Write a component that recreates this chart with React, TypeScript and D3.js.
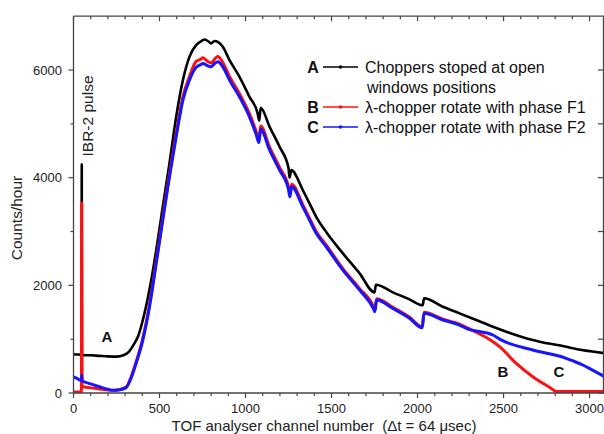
import React from "react";
import * as d3 from "d3";

// Series A: choppers stopped at open windows positions
const chA = [0, 30, 47, 48, 49, 100, 150, 200, 250, 290, 320, 350, 375, 413, 452, 481, 519, 558, 597, 636, 674, 713, 740, 762, 785, 800, 820, 839, 868, 907, 965, 1023, 1070, 1080, 1088, 1140, 1198, 1250, 1256, 1266, 1333, 1372, 1411, 1469, 1566, 1663, 1750, 1758, 1857, 1953, 2030, 2038, 2147, 2244, 2341, 2438, 2516, 2670, 2709, 2864, 2903, 3084];
const valA = [720, 715, 710, 4250, 700, 700, 690, 680, 675, 700, 760, 900, 1050, 1485, 2098, 2655, 3460, 4270, 5131, 5812, 6245, 6462, 6530, 6567, 6530, 6494, 6540, 6524, 6431, 6184, 5874, 5502, 5200, 5060, 5300, 4945, 4574, 4180, 4000, 4140, 3770, 3523, 3274, 2990, 2594, 2223, 1870, 2010, 1870, 1740, 1630, 1760, 1603, 1480, 1356, 1230, 1139, 984, 953, 860, 830, 740];

// Series B: lambda-chopper rotating with phase F1
const chB = [0, 46, 48, 50, 100, 150, 200, 229, 260, 306, 330, 364, 403, 442, 481, 519, 558, 597, 636, 674, 713, 740, 752, 780, 800, 820, 839, 868, 907, 965, 1023, 1062, 1078, 1088, 1140, 1198, 1250, 1258, 1268, 1333, 1372, 1411, 1469, 1566, 1663, 1745, 1752, 1762, 1857, 1953, 2027, 2038, 2147, 2244, 2283, 2400, 2477, 2574, 2670, 2767, 2806, 2900, 3084];
const valB = [20, 25, 3530, 120, 95, 75, 55, 50, 60, 110, 260, 580, 1020, 1650, 2450, 3260, 4070, 4820, 5500, 5880, 6160, 6200, 6230, 6160, 6130, 6200, 6250, 6140, 5880, 5560, 5190, 4860, 4700, 4960, 4570, 4190, 3830, 3690, 3880, 3500, 3250, 3000, 2750, 2310, 1940, 1590, 1530, 1750, 1590, 1410, 1230, 1500, 1370, 1280, 1220, 1030, 860, 551, 303, 106, 30, 30, 30];

// Series C: lambda-chopper rotating with phase F2
const chC = [0, 20, 47, 48, 50, 100, 151, 200, 229, 260, 306, 330, 364, 403, 442, 481, 519, 558, 597, 636, 674, 713, 740, 752, 780, 800, 820, 839, 868, 907, 965, 1023, 1062, 1078, 1088, 1140, 1198, 1250, 1258, 1268, 1333, 1372, 1411, 1469, 1566, 1663, 1745, 1752, 1762, 1857, 1953, 2027, 2038, 2147, 2244, 2283, 2438, 2477, 2670, 2864, 2900, 2961, 3020, 3084];
const valC = [300, 270, 230, 330, 230, 170, 117, 70, 50, 55, 100, 240, 551, 984, 1603, 2408, 3213, 4017, 4760, 5441, 5812, 6050, 6100, 6122, 6080, 6060, 6120, 6153, 6060, 5812, 5502, 5131, 4800, 4650, 4900, 4513, 4141, 3780, 3645, 3831, 3460, 3213, 2966, 2717, 2284, 1913, 1560, 1510, 1727, 1570, 1390, 1210, 1480, 1356, 1263, 1201, 1077, 1000, 798, 644, 600, 520, 420, 310];

const xMajor = [0, 500, 1000, 1500, 2000, 2500, 3000];
const yMajor = [0, 2000, 4000, 6000];
const yMinor = [1000, 3000, 5000];

const legendItems = [
  { key: "A", color: "#000000", lines: ["Choppers stoped at open", "windows positions"] },
  { key: "B", color: "#ff1010", lines: ["λ-chopper rotate with phase F1"] },
  { key: "C", color: "#1515ff", lines: ["λ-chopper rotate with phase F2"] },
];

const FONT = "'Liberation Sans', Arial, Helvetica, sans-serif";

export default function App() {
  const W = 604;
  const H = 434;
  const left = 73.5;
  const right = 604;
  const top = 16.2;
  const bottom = 393;

  const x = d3.scaleLinear().domain([0, 3084]).range([left, right]);
  const y = d3.scaleLinear().domain([0, 7000]).range([bottom, top]);

  const mk = (ch: number[], v: number[]) =>
    d3
      .line<number>()
      .x((_, i) => x(ch[i]))
      .y((d) => y(d))
      .curve(d3.curveMonotoneX)(v) as string;

  const xMinor = d3.range(0, 3100, 100).filter((t) => t % 500 !== 0);
  const axisColor = "#444";
  const textColor = "#222";

  return (
    <svg
      width={W}
      height={H}
      style={{ position: "absolute", left: 0, top: 0, background: "#fff" }}
      fontFamily={FONT}
    >
      <defs>
        <clipPath id="plot">
          <rect x={left} y={top} width={right - left} height={bottom - top} />
        </clipPath>
      </defs>

      {/* data */}
      <g clipPath="url(#plot)" fill="none" strokeLinejoin="round">
        <path d={mk(chA, valA)} stroke="#000" strokeWidth={2.6} />
        <path d={mk(chB, valB)} stroke="#ff1010" strokeWidth={3} />
        <path d={mk(chC, valC)} stroke="#1515ff" strokeWidth={3} />
      </g>

      {/* frame */}
      <g stroke={axisColor} strokeWidth={1.3}>
        <line x1={left} x2={right} y1={bottom} y2={bottom} />
        <line x1={left} x2={right} y1={top} y2={top} />
        <line x1={left} x2={left} y1={top} y2={bottom} />
        <line x1={right - 0.5} x2={right - 0.5} y1={top} y2={bottom} />
      </g>

      {/* ticks */}
      <g stroke={axisColor} strokeWidth={1.2}>
        {xMajor.map((t) => (
          <g key={"xm" + t}>
            <line x1={x(t)} x2={x(t)} y1={bottom} y2={bottom + 5} />
            <line x1={x(t)} x2={x(t)} y1={top} y2={top + 5} />
          </g>
        ))}
        {xMinor.map((t) => (
          <g key={"xn" + t}>
            <line x1={x(t)} x2={x(t)} y1={bottom} y2={bottom + 3} />
            <line x1={x(t)} x2={x(t)} y1={top} y2={top + 3} />
          </g>
        ))}
        {yMajor.map((t) => (
          <g key={"ym" + t}>
            <line x1={left - 5} x2={left} y1={y(t)} y2={y(t)} />
            <line x1={right - 6} x2={right} y1={y(t)} y2={y(t)} />
          </g>
        ))}
        {yMinor.map((t) => (
          <g key={"yn" + t}>
            <line x1={left - 3} x2={left} y1={y(t)} y2={y(t)} />
            <line x1={right - 6} x2={right} y1={y(t)} y2={y(t)} />
          </g>
        ))}
      </g>

      {/* tick labels */}
      <g fill={textColor} fontSize={13}>
        {xMajor.map((t) => (
          <text key={"xl" + t} x={x(t)} y={412.5} textAnchor="middle">
            {t}
          </text>
        ))}
        {yMajor.map((t) => (
          <text key={"yl" + t} x={62} y={y(t) + 4.5} textAnchor="end">
            {t}
          </text>
        ))}
      </g>

      {/* axis titles */}
      <text
        x={324}
        y={430.5}
        textAnchor="middle"
        fontSize={15}
        fill={textColor}
        style={{ whiteSpace: "pre" }}
      >
        {"TOF analyser channel number  (Δt = 64 μsec)"}
      </text>
      <text
        transform={`translate(22,218) rotate(-90)`}
        textAnchor="middle"
        fontSize={15.5}
        fill={textColor}
      >
        Counts/hour
      </text>
      <text
        transform={`translate(93,116) rotate(-90)`}
        textAnchor="middle"
        fontSize={15.5}
        fill={textColor}
      >
        IBR-2 pulse
      </text>

      {/* curve labels */}
      <g fontSize={15} fontWeight="bold" fill="#111" textAnchor="middle">
        <text x={107} y={342}>A</text>
        <text x={503} y={377}>B</text>
        <text x={559} y={377}>C</text>
      </g>

      {/* legend */}
      <g fontSize={16} fill="#111">
        {legendItems.map((it, i) => {
          const cy = [67, 107, 127][i];
          return (
            <g key={it.key}>
              <text x={313} y={cy + 5.5} fontWeight="bold" textAnchor="middle">
                {it.key}
              </text>
              <line x1={323} x2={358} y1={cy} y2={cy} stroke={it.color} strokeWidth={1.3} />
              <circle cx={340.5} cy={cy} r={1.8} fill={it.color} />
              {it.lines.map((s, j) => (
                <text key={j} x={j === 0 ? 365 : 367} y={cy + 5.5 + j * 20}>
                  {s}
                </text>
              ))}
            </g>
          );
        })}
      </g>
    </svg>
  );
}
